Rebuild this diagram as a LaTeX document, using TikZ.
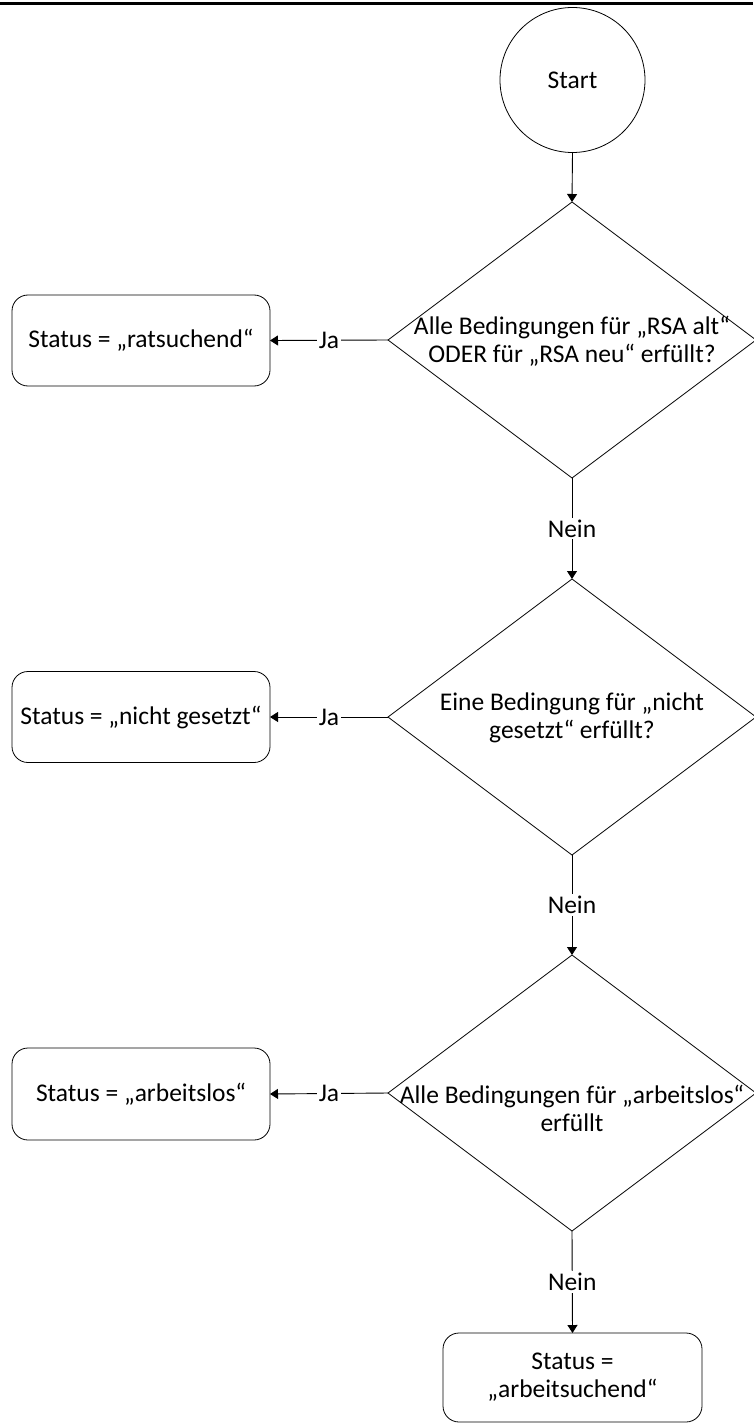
\documentclass[tikz,border=0pt]{standalone}
\usepackage{fontspec}
\setmainfont{Carlito}
\usetikzlibrary{shapes.geometric,arrows.meta}
\begin{document}
\begin{tikzpicture}[x=1pt,y=-1pt,
  every node/.style={font=\fontsize{25.5}{28}\selectfont},
  diam/.style={draw,line width=0.8pt,diamond,inner sep=0pt,outer sep=0pt,minimum width=368pt,minimum height=276pt},
  sbox/.style={draw,line width=0.8pt,rounded corners=16pt,minimum width=258pt,minimum height=91pt,inner sep=0pt,outer sep=0pt,align=center},
  txt/.style={align=center,inner sep=0pt},
  arr/.style={line width=0.9pt,-{Triangle[width=10pt,length=8pt]}},
  lbl/.style={fill=white,inner sep=2pt}]
\useasboundingbox (0,0) rectangle (753,1423);
\fill (0,2.3) rectangle (753,4.7);
\node[draw,circle,line width=0.8pt,minimum size=145pt,inner sep=0pt,outer sep=0pt] (start) at (572.5,80) {Start};
\node[diam] (d1) at (572,340) {};
\node[txt] (t1) at (572,341) {Alle Bedingungen für „RSA alt“\\ODER für „RSA neu“ erfüllt?};
\node[diam] (d2) at (572,717) {};
\node[txt] (t2) at (572,718) {Eine Bedingung für „nicht\\gesetzt“ erfüllt?};
\node[diam] (d3) at (572,1093) {};
\node[txt] (t3) at (572,1108) {Alle Bedingungen für „arbeitslos“\\erfüllt};
\node[sbox] (b1) at (141,340.5) {Status = „ratsuchend“};
\node[sbox] (b2) at (141,717) {Status = „nicht gesetzt“};
\node[sbox,minimum height=92pt] (b3) at (141,1094) {Status = „arbeitslos“};
\node[sbox,minimum width=259pt,minimum height=89pt] (b4) at (572.5,1377.5) {Status =\\„arbeitsuchend“};
\draw[arr] (start.south) -- (d1.north);
\draw[arr] (d1.west) -- node[lbl]{Ja} (b1.east);
\draw[arr] (d1.south) -- node[lbl]{Nein} (d2.north);
\draw[arr] (d2.west) -- node[lbl]{Ja} (b2.east);
\draw[arr] (d2.south) -- node[lbl]{Nein} (d3.north);
\draw[arr] (d3.west) -- node[lbl]{Ja} (b3.east);
\draw[arr] (d3.south) -- node[lbl]{Nein} (b4.north);
\end{tikzpicture}
\end{document}
